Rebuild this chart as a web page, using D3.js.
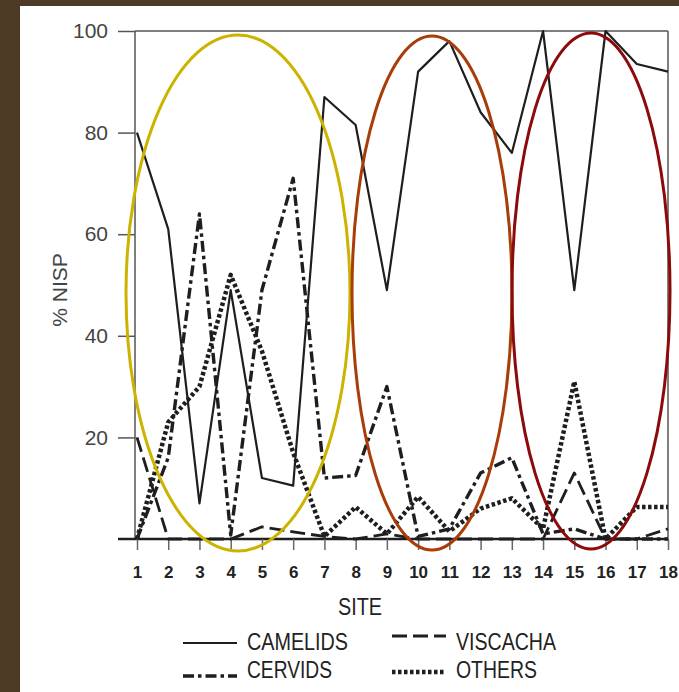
<!DOCTYPE html>
<html>
<head>
<meta charset="utf-8">
<script src="https://cdn.jsdelivr.net/npm/d3@7"></script>
<style>
  body { margin: 0; background: #4e3b26; }
  svg { display: block; }
</style>
</head>
<body>
<div id="chart"></div>
<script>
// sites 1..18, % NISP
const sites = [1, 2, 3, 4, 5, 6, 7, 8, 9, 10, 11, 12, 13, 14, 15, 16, 17, 18];
const camelids = [80, 61, 7, 49, 12, 10.5, 87, 81.5, 49, 92, 98, 84, 76, 100, 49, 100, 93.5, 92];
const cervids  = [0, 16, 64, 0.8, 49, 71, 12, 12.5, 30, 0.5, 2, 13, 16, 1, 2, 0, 0, 0];
const viscacha = [20, 0, 0, 0, 2.4, 1.4, 0.5, 0, 1, 0, 0, 0, 0, 0, 13, 0, 0, 2];
const others   = [0, 23, 30, 52, 37, 17, 0.5, 6.3, 1, 8.3, 1.5, 6, 8, 2, 31, 0, 6.3, 6.3];
const yTicks = [0, 20, 40, 60, 80, 100];

const W = 679, H = 692;
const svg = d3.select("#chart").append("svg")
    .attr("width", W).attr("height", H);

// white card over the brown frame
svg.append("rect").attr("x", 20).attr("y", 6).attr("width", W - 20).attr("height", H - 6)
    .attr("fill", "#ffffff");

const x = d3.scaleLinear().domain([1, 18]).range([137, 668]);
const y = d3.scaleLinear().domain([0, 100]).range([539, 31]);

const ink = "#1e1e1e";

// frame: top and right edges
svg.append("line").attr("x1", 135).attr("x2", 668).attr("y1", y(100)).attr("y2", y(100))
    .attr("stroke", "#555").attr("stroke-width", 1.5);
svg.append("line").attr("x1", 668).attr("x2", 668).attr("y1", y(100)).attr("y2", y(0))
    .attr("stroke", "#555").attr("stroke-width", 1.5);

// y axis
const yAxis = svg.append("g").attr("transform", "translate(135,0)")
    .call(d3.axisLeft(y).tickValues(yTicks.filter(d => d > 0)).tickSize(17).tickPadding(10));
yAxis.select(".domain").attr("stroke", "#555").attr("stroke-width", 1.5)
    .attr("d", `M0,${y(100)}V${y(0)}`);
yAxis.selectAll(".tick line").attr("stroke", "#555").attr("stroke-width", 1.5);
yAxis.selectAll(".tick text").attr("fill", "#444")
    .style("font", "21px 'Liberation Sans', Arial, sans-serif");

// x axis
const xAxis = svg.append("g").attr("transform", `translate(0,${y(0)})`)
    .call(d3.axisBottom(x).tickValues(sites).tickSize(11).tickPadding(16).tickFormat(d3.format("d")));
xAxis.select(".domain").attr("stroke", ink).attr("stroke-width", 2.5)
    .attr("d", "M118,0H668");
xAxis.selectAll(".tick line").attr("stroke", "#666").attr("stroke-width", 1.5);
xAxis.selectAll(".tick text").attr("fill", "#222")
    .style("font", "bold 17px 'Liberation Sans', Arial, sans-serif");

// series
const series = [
  { name: "CAMELIDS", values: camelids, dash: null, width: 2.2 },
  { name: "CERVIDS",  values: cervids,  dash: "11 4 3.5 4", width: 3.4 },
  { name: "VISCACHA", values: viscacha, dash: "15 6", width: 2.8 },
  { name: "OTHERS",   values: others,   dash: "3.5 2.5", width: 4.5 }
];

const line = d3.line()
    .x((d, i) => x(sites[i]))
    .y(d => y(d));

series.forEach(s => {
  svg.append("path")
      .datum(s.values)
      .attr("fill", "none")
      .attr("stroke", ink)
      .attr("stroke-width", s.width)
      .attr("stroke-linejoin", "round")
      .attr("stroke-dasharray", s.dash)
      .attr("d", line);
});

// axis titles
const labelFont = "24px 'Liberation Sans', Arial, sans-serif";
svg.append("text")
    .attr("x", 338).attr("y", 615)
    .attr("textLength", 44).attr("lengthAdjust", "spacingAndGlyphs")
    .attr("fill", "#222")
    .style("font", labelFont)
    .text("SITE");

svg.append("text")
    .attr("transform", "translate(67,290) rotate(-90)")
    .attr("text-anchor", "middle")
    .attr("fill", "#444")
    .style("font", "21px 'Liberation Sans', Arial, sans-serif")
    .text("% NISP");

// legend
const legend = [
  { s: series[0], x: 183, ly: 643, ty: 650, tw: 101 },
  { s: series[2], x: 392, ly: 636, ty: 650, tw: 100 },
  { s: series[1], x: 183, ly: 676, ty: 678, tw: 85 },
  { s: series[3], x: 392, ly: 672, ty: 678, tw: 81 }
];
legend.forEach(l => {
  svg.append("line")
      .attr("x1", l.x).attr("x2", l.x + 54)
      .attr("y1", l.ly).attr("y2", l.ly)
      .attr("stroke", ink)
      .attr("stroke-width", l.s.width)
      .attr("stroke-dasharray", l.s.dash);
  svg.append("text")
      .attr("x", l.x + 64).attr("y", l.ty)
      .attr("textLength", l.tw).attr("lengthAdjust", "spacingAndGlyphs")
      .attr("fill", "#222")
      .style("font", labelFont)
      .text(l.s.name);
});

// highlight ellipses
const rings = [
  { cx: 238, cy: 293, rx: 112, ry: 258, color: "#cbb300" },
  { cx: 432, cy: 293, rx: 80, ry: 257, color: "#a83d0a" },
  { cx: 591, cy: 291, rx: 79, ry: 258, color: "#8b0a0c" }
];
svg.selectAll("ellipse.ring")
    .data(rings)
    .join("ellipse")
    .attr("class", "ring")
    .attr("cx", d => d.cx).attr("cy", d => d.cy)
    .attr("rx", d => d.rx).attr("ry", d => d.ry)
    .attr("fill", "none")
    .attr("stroke", d => d.color)
    .attr("stroke-width", 3);
</script>
</body>
</html>
